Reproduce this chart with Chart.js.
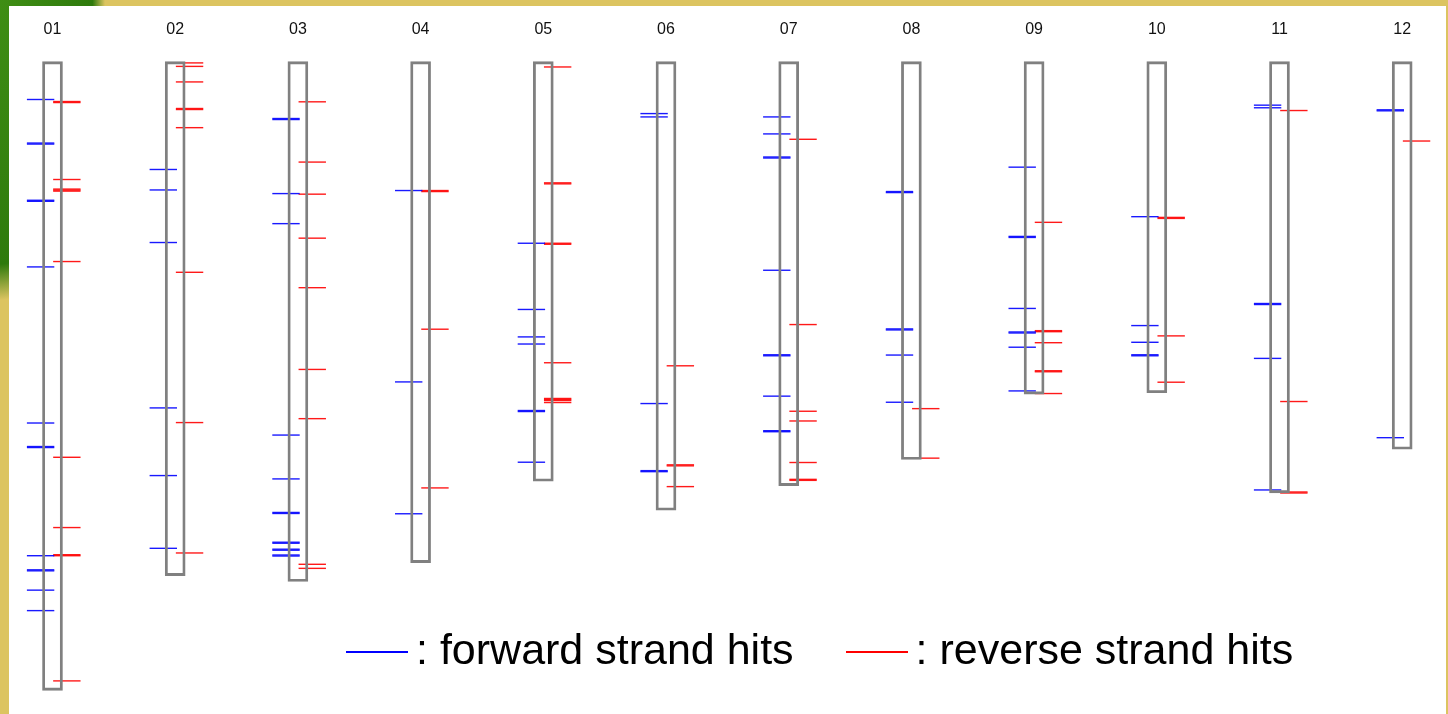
<!DOCTYPE html>
<html>
<head>
<meta charset="utf-8">
<title>Forward / reverse strand hits on chromosomes</title>
<script src="https://cdn.jsdelivr.net/npm/chart.js@4.4.1/dist/chart.umd.min.js"></script>
<style>
  html, body { margin: 0; padding: 0; }
  body {
    width: 1448px;
    height: 714px;
    overflow: hidden;
    position: relative;
    background: #dcc460;
    background-image: radial-gradient(105px 300px at 0 0, #3f8e14 0%, #2e7a0c 88%, #dcc460 100%);
  }
  #panel { position: absolute; left: 9px; top: 6px; width: 1437px; height: 708px; background: #fff; }
  #wrap { position: absolute; left: 0; top: 0; width: 1448px; height: 714px; }
  #legend {
    position: absolute;
    left: 346px;
    top: 628px;
    display: flex;
    font-family: "Liberation Sans", Arial, sans-serif;
    font-size: 43px;
    line-height: 43px;
    color: #000;
    white-space: nowrap;
  }
  #legend .line { width: 62px; height: 0; border-top: 2px solid; margin-top: 23px; margin-right: 8px; }
  #legend .label { margin-right: 52px; }
</style>
</head>
<body>
<div id="panel"></div>
<div id="wrap"><canvas id="chromChart"></canvas></div>
<div id="legend"></div>

<script>
// chromosome names and lengths (Mb)
const chromosomes = ['01', '02', '03', '04', '05', '06', '07', '08', '09', '10', '11', '12'];
const chromosomeLengths = [43.3, 35.4, 35.8, 34.5, 28.9, 30.9, 29.2, 27.4, 22.9, 22.8, 29.7, 26.7];

// hit positions (Mb from the top), one list per chromosome
const forwardHits = [
    [2.61, 5.61, 5.68, 9.55, 9.62, 14.14, 24.89, 26.51, 26.58, 34.03, 35.00, 35.07, 36.40, 37.81],
    [7.43, 8.84, 12.46, 23.85, 28.51, 33.52],
    [3.92, 3.99, 9.09, 11.16, 25.72, 28.74, 31.05, 31.12, 33.10, 33.17, 33.58, 33.65, 33.98, 34.05],
    [8.88, 22.06, 31.14],
    [12.51, 17.07, 18.96, 19.45, 24.03, 24.10, 27.59],
    [3.58, 3.81, 23.55, 28.17, 28.24],
    [3.81, 4.98, 6.57, 6.64, 14.37, 20.19, 20.26, 23.04, 25.42, 25.49],
    [8.95, 9.02, 18.41, 18.48, 20.21, 23.46],
    [7.27, 12.04, 12.11, 17.00, 18.62, 18.69, 19.67, 22.68],
    [10.68, 18.18, 19.33, 20.19, 20.26],
    [3.00, 3.18, 16.66, 16.73, 20.44, 29.50],
    [3.32, 3.39, 25.90]
];
const reverseHits = [
    [2.75, 2.82, 8.12, 8.78, 8.85, 8.92, 13.77, 27.25, 32.09, 33.96, 34.03, 42.65],
    [0.09, 0.33, 1.40, 3.23, 3.30, 4.55, 14.51, 24.86, 33.84],
    [2.77, 6.92, 9.13, 12.16, 15.57, 21.20, 24.59, 34.62, 34.90],
    [8.88, 8.95, 18.43, 29.36],
    [0.37, 8.35, 8.42, 12.51, 12.58, 20.74, 23.20, 23.27, 23.34, 23.48],
    [20.95, 27.77, 27.84, 29.27],
    [5.35, 18.11, 24.08, 24.75, 27.61, 28.77, 28.84],
    [23.90, 27.31],
    [11.07, 18.53, 18.60, 19.36, 21.29, 21.36, 22.86],
    [10.73, 10.80, 18.89, 22.08],
    [3.37, 23.41, 29.64, 29.71],
    [5.47]
];

const seriesLabels = [': forward strand hits', ': reverse strand hits'];
const seriesColors = ['#0000ff', '#ff0000'];

// ticks sit left / right of the chromosome centre
const fwdShift = -0.097;
const revShift = 0.117;

function hitPoints(hits, shift) {
    const points = [];
    hits.forEach((list, i) => {
        list.forEach(pos => points.push({ x: i + 1 + shift, y: pos }));
    });
    return points;
}

const hitStyle = {
    type: 'scatter',
    pointStyle: 'line',
    pointRadius: 13.7,
    pointHoverRadius: 13.7,
    pointBorderWidth: 1.4,
    order: 1
};

const ctx = document.getElementById('chromChart').getContext('2d');
Chart.defaults.font.family = '"Liberation Sans", Arial, sans-serif';

new Chart(ctx, {
    type: 'bar',
    data: {
        datasets: [
            {
                label: 'chromosomes',
                data: chromosomeLengths.map((len, i) => ({ x: i + 1, y: [0, len] })),
                backgroundColor: 'rgba(255,255,255,0)',
                borderColor: '#808080',
                borderWidth: 2.2,
                borderSkipped: false,
                barThickness: 20,
                order: 0
            },
            Object.assign({}, hitStyle, {
                label: seriesLabels[0],
                data: hitPoints(forwardHits, fwdShift),
                borderColor: seriesColors[0],
                pointBorderColor: 'rgba(0,0,255,0.9)'
            }),
            Object.assign({}, hitStyle, {
                label: seriesLabels[1],
                data: hitPoints(reverseHits, revShift),
                borderColor: seriesColors[1],
                pointBorderColor: 'rgba(255,0,0,0.9)'
            })
        ]
    },
    options: {
        responsive: true,
        maintainAspectRatio: false,
        animation: false,
        events: [],
        layout: { autoPadding: false, padding: { left: 9, right: 2, top: 0, bottom: 0 } },
        plugins: {
            legend: { display: false },
            tooltip: { enabled: false }
        },
        scales: {
            x: {
                type: 'linear',
                position: 'top',
                offset: false,
                min: 0.6455,
                max: 12.357,
                grid: { display: false, drawTicks: false },
                border: { display: false },
                afterBuildTicks: axis => {
                    axis.ticks = chromosomes.map((c, i) => ({ value: i + 1 }));
                },
                afterFit: axis => {
                    axis.height = 45;
                },
                ticks: {
                    autoSkip: false,
                    maxRotation: 0,
                    padding: 6,
                    color: '#111',
                    font: { size: 16 },
                    callback: (value, index) => chromosomes[index]
                }
            },
            y: {
                type: 'linear',
                display: false,
                reverse: true,
                min: -1.143,
                max: 44.93
            }
        }
    }
});

// legend
const legendEl = document.getElementById('legend');
seriesLabels.forEach((label, i) => {
    const line = document.createElement('span');
    line.className = 'line';
    line.style.borderTopColor = seriesColors[i];
    const text = document.createElement('span');
    text.className = 'label';
    text.textContent = label;
    legendEl.appendChild(line);
    legendEl.appendChild(text);
});
</script>
</body>
</html>
